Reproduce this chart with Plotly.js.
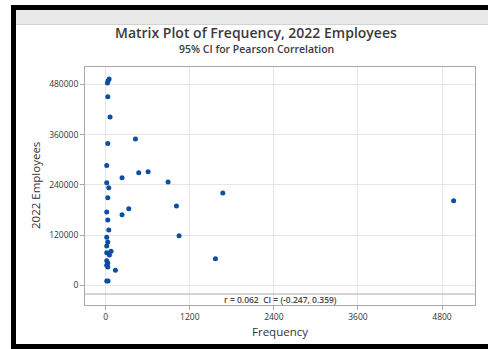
<!DOCTYPE html>
<html>
<head>
<meta charset="utf-8">
<script src="https://cdn.plot.ly/plotly-3.0.1.min.js"></script>
<style>
html,body{margin:0;padding:0;background:#fff;}
#chart{width:488px;height:349px;}
</style>
</head>
<body>
<div id="chart"></div>
<script>
// Data
const frequency = [48, 33, 24, 29, 62, 424, 29, 14, 233, 471, 605, 890, 14, 43, 29, 1009, 329, 233, 14, 29, 43, 1047, 14, 29, 14, 14, 43, 76, 52, 14, 29, 14, 29, 138, 14, 33, 1566, 1671, 4966];
const employees2022 = [492500, 487700, 483000, 450400, 401900, 349400, 339000, 286600, 257200, 269100, 271500, 246800, 245300, 233300, 209500, 189600, 183300, 168900, 175300, 156300, 132400, 118900, 114900, 103800, 94200, 78300, 76700, 81500, 72700, 59200, 53700, 48100, 44100, 36200, 10700, 10700, 63900, 220700, 202300];
const xTicks = [0, 1200, 2400, 3600, 4800];
const yTicks = [0, 120000, 240000, 360000, 480000];
const titleText = "Matrix Plot of Frequency, 2022 Employees";
const subtitleText = "95% CI for Pearson Correlation";
const xTitle = "Frequency";
const yTitle = "2022 Employees";
const corrText = "r = 0.062  CI = (-0.247, 0.359)";
const stripValue = -20300;

// Layout geometry (pixels)
const W = 488, H = 349;
const ml = 85, mr = 13, mt = 67, mb = 44;
const pw = W - ml - mr, ph = H - mt - mb;
const px = p => (p - ml) / pw;
const py = p => (H - mb - p) / ph;

const FONT = "Open Sans, Noto Sans, sans-serif";

const trace = {
  x: frequency, y: employees2022,
  type: "scatter", mode: "markers",
  marker: {color: "#0b4ea2", size: 5},
  hoverinfo: "skip", cliponaxis: false
};

const shapes = [
  // window decorations
  {type:"rect", xref:"paper", yref:"paper", x0:px(16), x1:px(490), y0:py(25), y1:py(10), fillcolor:"#e9e9e9", line:{width:0}, layer:"above"},
  {type:"line", xref:"paper", yref:"paper", x0:px(16), x1:px(490), y0:py(24.5), y1:py(24.5), line:{color:"#d2d2d2", width:1}, layer:"above"},
  {type:"rect", xref:"paper", yref:"paper", x0:px(11), x1:px(490), y0:py(10), y1:py(5), fillcolor:"#000", line:{width:0}, layer:"above"},
  {type:"rect", xref:"paper", yref:"paper", x0:px(11), x1:px(16), y0:py(351), y1:py(5), fillcolor:"#000", line:{width:0}, layer:"above"},
  {type:"rect", xref:"paper", yref:"paper", x0:px(11), x1:px(490), y0:py(351), y1:py(344), fillcolor:"#000", line:{width:0}, layer:"above"},
  // correlation strip separator
  {type:"line", xref:"paper", yref:"y", x0:0, x1:1, y0:stripValue, y1:stripValue, line:{color:"#a8a8a8", width:1}, layer:"above"}
];

const annotations = [
  {text:titleText, xref:"paper", yref:"paper", x:px(256), y:py(32), xanchor:"center", yanchor:"middle", borderpad:0, showarrow:false, font:{family:FONT, size:14, color:"#3a3a3a", weight:600}},
  {text:subtitleText, xref:"paper", yref:"paper", x:px(256), y:py(49), xanchor:"center", yanchor:"middle", borderpad:0, showarrow:false, font:{family:FONT, size:10.5, color:"#3a3a3a", weight:600}},
  {text:xTitle, xref:"paper", yref:"paper", x:px(280), y:py(331), xanchor:"center", yanchor:"middle", showarrow:false, font:{family:FONT, size:11.5, color:"#333"}},
  {text:yTitle, xref:"paper", yref:"paper", x:px(35), y:py(186), xanchor:"center", yanchor:"middle", textangle:-90, showarrow:false, font:{family:FONT, size:11.5, color:"#333"}},
  {text:corrText, xref:"paper", yref:"paper", x:0.5, y:py(299.5), xanchor:"center", yanchor:"middle", showarrow:false, font:{family:FONT, size:8.5, color:"#444", weight:600}}
];

const layout = {
  width: W, height: H,
  margin: {l: ml, r: mr, t: mt, b: mb, pad: 0},
  paper_bgcolor: "#fff", plot_bgcolor: "#fff",
  showlegend: false,
  xaxis: {
    range: [-296, 5271], tickvals: xTicks, ticktext: xTicks.map(String),
    showgrid: true, gridcolor: "#e6e6e6", gridwidth: 1, zeroline: false,
    showline: true, mirror: true, linecolor: "#a8a8a8", linewidth: 1,
    ticks: "outside", ticklen: 4, tickcolor: "#a8a8a8",
    tickfont: {family: FONT, size: 8.5, color: "#333"}
  },
  yaxis: {
    range: [-46500, 521300], tickvals: yTicks, ticktext: yTicks.map(String),
    showgrid: true, gridcolor: "#e6e6e6", gridwidth: 1, zeroline: false,
    showline: true, mirror: true, linecolor: "#a8a8a8", linewidth: 1,
    ticks: "outside", ticklen: 4, tickcolor: "#a8a8a8",
    tickfont: {family: FONT, size: 8.5, color: "#333"}
  },
  shapes: shapes,
  annotations: annotations
};

Plotly.newPlot("chart", [trace], layout, {staticPlot: true, displayModeBar: false});
</script>
</body>
</html>
